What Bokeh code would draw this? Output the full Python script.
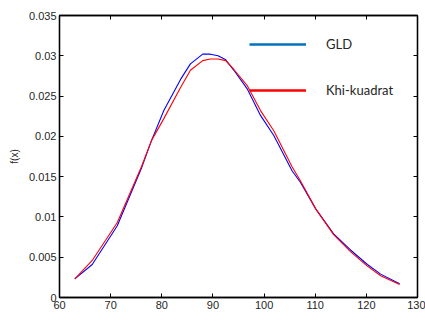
from bokeh.plotting import figure
from bokeh.models import LinearAxis, Legend, LegendItem, Label, Range1d, FixedTicker, ColumnDataSource
from bokeh.embed import file_html
from bokeh.resources import INLINE

# Data
x = [63, 66.4, 71.3, 76, 78, 80.4, 83.7, 85.6, 88, 89.5, 91, 92.5, 94.1, 96.7,
     99.3, 101.9, 105.5, 107.1, 110.1, 113.6, 116.9, 120.2, 122.8, 126.5]
gld = [0.00232, 0.0041, 0.0089, 0.0160, 0.0195, 0.0232, 0.0271, 0.0290, 0.0302,
       0.0302, 0.0300, 0.0295, 0.0282, 0.0259, 0.0226, 0.0201, 0.0157, 0.0143,
       0.0110, 0.0079, 0.0059, 0.0041, 0.0029, 0.0017]
khi = [0.00232, 0.0046, 0.0093, 0.0162, 0.0195, 0.0222, 0.0261, 0.0282, 0.0294,
       0.0296, 0.0296, 0.0294, 0.0283, 0.0263, 0.0232, 0.0207, 0.0162, 0.0145,
       0.0110, 0.0078, 0.0057, 0.0039, 0.0027, 0.0016]

x_ticks = [60, 70, 80, 90, 100, 110, 120, 130]
x_tick_labels = ["60", "70", "80", "90", "100", "110", "120", "130"]
y_ticks = [0, 0.005, 0.01, 0.015, 0.02, 0.025, 0.03, 0.035]
y_tick_labels = ["0", "0.005", "0.01", "0.015", "0.02", "0.025", "0.03", "0.035"]
series_names = ["GLD", "Khi-kuadrat"]
x_label = "x"
y_label = "f(x)"

FONT = "Liberation Sans"
TXT = "#262626"

p = figure(width=425, height=322, output_backend="svg", toolbar_location=None,
           x_range=Range1d(60, 130), y_range=Range1d(0, 0.035),
           min_border_left=59, min_border_right=8, min_border_top=15, min_border_bottom=25)
p.background_fill_color = "white"
p.border_fill_color = "white"
p.xgrid.visible = False
p.ygrid.visible = False
p.outline_line_color = "black"
p.outline_line_width = 1.3

src = ColumnDataSource(dict(x=x, gld=gld, khi=khi))
p.line("x", "gld", source=src, line_color="#0000FF", line_width=1.1)
p.line("x", "khi", source=src, line_color="#FF0000", line_width=1.1)

# legend-only renderers (a single point draws no line on the plot)
lg1 = p.line(x=x[:1], y=gld[:1], line_color="#0072BD", line_width=2.5)
lg2 = p.line(x=x[:1], y=khi[:1], line_color="#FF0000", line_width=2.5)
legend = Legend(items=[LegendItem(label=series_names[0], renderers=[lg1]),
                       LegendItem(label=series_names[1], renderers=[lg2])],
                location=(190, 197), glyph_width=57, glyph_height=20, spacing=26,
                label_standoff=20, padding=0, margin=0,
                border_line_color=None, background_fill_alpha=0,
                label_text_font="Lato", label_text_font_size="13px", label_text_color=TXT)
p.add_layout(legend, "center")

def style(ax):
    ax.major_tick_in = 4
    ax.major_tick_out = 0
    ax.minor_tick_in = 0
    ax.minor_tick_out = 0
    ax.axis_line_color = "black"
    ax.axis_line_width = 1.3
    ax.major_tick_line_color = "black"
    ax.major_label_text_font = FONT
    ax.major_label_text_font_size = "11px"
    ax.major_label_text_color = TXT

xa = p.xaxis[0]
xa.ticker = FixedTicker(ticks=x_ticks)
xa.major_label_overrides = {t: l for t, l in zip(x_ticks, x_tick_labels)}
xa.major_label_standoff = 3
style(xa)

ya = p.yaxis[0]
ya.ticker = FixedTicker(ticks=y_ticks)
ya.major_label_overrides = {t: l for t, l in zip(y_ticks, y_tick_labels)}
ya.major_label_standoff = 3
ya.axis_label = y_label
ya.axis_label_text_font = FONT
ya.axis_label_text_font_size = "10px"
ya.axis_label_text_font_style = "normal"
ya.axis_label_text_color = TXT
ya.axis_label_standoff = 6
style(ya)

top = LinearAxis(ticker=FixedTicker(ticks=x_ticks),
                 major_label_overrides={t: "" for t in x_ticks}, major_label_standoff=0)
style(top)
p.add_layout(top, "above")
right = LinearAxis(ticker=FixedTicker(ticks=y_ticks),
                   major_label_overrides={t: "" for t in y_ticks}, major_label_standoff=0)
style(right)
p.add_layout(right, "right")

p.add_layout(Label(x=94, y=-0.0029, text=x_label, text_font=FONT, text_font_size="10px",
                   text_color=TXT, text_align="center", text_baseline="bottom"))

open("out.html", "w").write(file_html(p, INLINE))
